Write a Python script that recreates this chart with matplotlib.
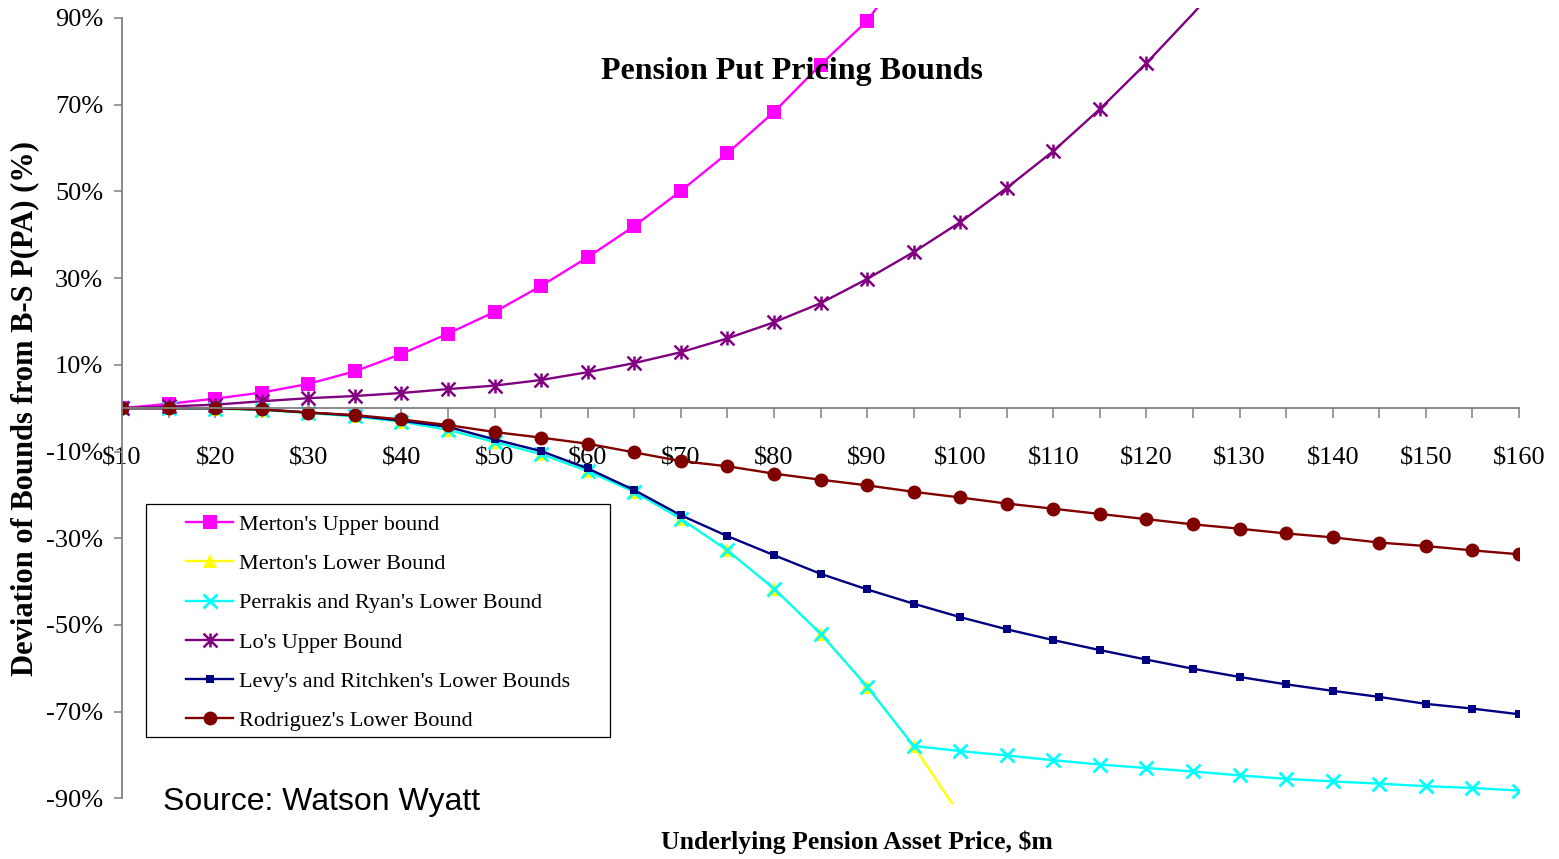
import numpy as np
import matplotlib
matplotlib.use("Agg")
import matplotlib.pyplot as plt
from matplotlib.lines import Line2D
from matplotlib.patches import Rectangle
from matplotlib.path import Path

# Underlying pension asset price, $m
prices = [10, 15, 20, 25, 30, 35, 40, 45, 50, 55, 60, 65, 70, 75, 80, 85,
          90, 95, 100, 105, 110, 115, 120, 125, 130, 135, 140, 145, 150, 155, 160]
nan = np.nan

# Deviation of each bound from B-S P(PA), in %
merton_upper = [0, 1.0, 2.2, 3.6, 5.6, 8.5, 12.5, 17.2, 22.2, 28.2, 34.8, 42.0,
                50.1, 58.8, 68.3, 79.2, 89.3, 104.0] + [nan] * 13
merton_lower = [0, 0, -0.1, -0.4, -1.1, -1.9, -3.1, -5.0, -7.8, -10.6, -14.5,
                -19.3, -25.5, -32.8, -41.6, -52.0, -64.2, -77.9, -94.0] + [nan] * 12
perrakis_ryan = [0, 0, -0.1, -0.4, -1.1, -1.9, -3.1, -5.0, -7.8, -10.6, -14.5,
                 -19.3, -25.5, -32.8, -41.6, -52.0, -64.2, -77.9, -79.1, -80.1,
                 -81.2, -82.2, -83.0, -83.8, -84.7, -85.5, -86.1, -86.6, -87.2,
                 -87.6, -88.2]
lo_upper = [0, 0.4, 0.8, 1.6, 2.3, 2.8, 3.5, 4.4, 5.2, 6.5, 8.3, 10.4, 12.9,
            16.1, 19.8, 24.2, 29.8, 36.0, 42.9, 50.8, 59.3, 69.0, 79.6, 91.0,
            103.0] + [nan] * 6
levy_ritchken = [0, 0, 0, -0.3, -1.0, -1.7, -2.9, -4.3, -7.2, -9.9, -13.9, -18.9,
                 -24.7, -29.5, -33.9, -38.2, -41.8, -45.1, -48.2, -51.0, -53.5,
                 -55.8, -58.0, -60.1, -62.0, -63.7, -65.2, -66.6, -68.2, -69.3,
                 -70.6]
rodriguez = [0, 0, 0, -0.3, -1.0, -1.6, -2.6, -3.9, -5.5, -6.8, -8.2, -10.2,
             -12.2, -13.4, -15.1, -16.5, -17.8, -19.3, -20.6, -22.0, -23.2,
             -24.4, -25.6, -26.8, -27.8, -28.9, -29.8, -31.0, -31.8, -32.8,
             -33.7]

series_names = ["Merton's Upper bound", "Merton's Lower Bound",
                "Perrakis and Ryan's Lower Bound", "Lo's Upper Bound",
                "Levy's and Ritchken's Lower Bounds", "Rodriguez's Lower Bound"]

# asterisk: an x with a vertical bar through it
asterisk = Path([(0, -1), (0, 1), (-1, -1), (1, 1), (-1, 1), (1, -1)],
                [Path.MOVETO, Path.LINETO] * 3)

styles = [
    dict(color="#FF00FF", marker="s", ms=9.5, mew=0),
    dict(color="#FFFF00", marker="^", ms=10, mew=0),
    dict(color="#00FFFF", marker="x", ms=10, mew=2),
    dict(color="#800080", marker=asterisk, ms=10, mew=1.8),
    dict(color="#000080", marker="s", ms=6, mew=0),
    dict(color="#800000", marker="o", ms=10, mew=0),
]
all_series = [merton_upper, merton_lower, perrakis_ryan, lo_upper,
              levy_ritchken, rodriguez]

W, H = 1559, 859
fig = plt.figure(figsize=(W / 100, H / 100), dpi=100)
ax = fig.add_axes([122 / W, 1 - 804 / H, (1519 - 122) / W, (804 - 8) / H])
ax.set_xlim(10, 160)
ax.set_ylim(-91.3, 92.3)

handles = []
for name, vals, st in zip(series_names, all_series, styles):
    y = np.array(vals, dtype=float)
    ax.plot(prices, y, color=st["color"], lw=1.7, solid_capstyle="butt")
    # markers are only drawn for points inside the -90%..90% range
    ym = np.where((y >= -90) & (y <= 90), y, np.nan)
    ax.plot(prices, ym, ls="none", marker=st["marker"], ms=st["ms"],
            mfc=st["color"], mec=st["color"], mew=st["mew"])
    handles.append(Line2D([], [], color=st["color"], lw=1.7, marker=st["marker"],
                          ms=st["ms"], mfc=st["color"], mec=st["color"],
                          mew=st["mew"], label=name))

serif = "Liberation Serif"
axis_grey = "#808080"

for side in ("top", "right"):
    ax.spines[side].set_visible(False)
ax.spines["left"].set_bounds(-90, 90)
ax.spines["bottom"].set_position(("data", 0))
for side in ("left", "bottom"):
    ax.spines[side].set_color(axis_grey)
    ax.spines[side].set_linewidth(1.3)

yticks = np.arange(-90, 91, 20)
ax.set_yticks(yticks)
ax.set_yticklabels([f"{v}%" for v in yticks], fontfamily=serif, fontsize=19)
ax.set_xticks(range(10, 161, 10))
ax.set_xticklabels([f"${v}" for v in range(10, 161, 10)], fontfamily=serif, fontsize=19)
ax.set_xticks(range(15, 160, 10), minor=True)
ax.tick_params(axis="y", direction="out", length=5.5, width=1.1, color=axis_grey, pad=8)
ax.tick_params(axis="x", which="both", direction="out", length=7.5, width=1.1,
               color=axis_grey, pad=20.5)

fig.text(792 / W, 1 - 71 / H, "Pension Put Pricing Bounds", ha="center", va="center",
         fontfamily=serif, fontweight="bold", fontsize=23)
fig.text(857 / W, 1 - 842 / H, "Underlying Pension Asset Price, $m", ha="center",
         va="center", fontfamily=serif, fontweight="bold", fontsize=18.5)
fig.text(25 / W, 1 - 408 / H, "Deviation of Bounds from B-S P(PA) (%)", ha="center",
         va="center", rotation=90, fontfamily=serif, fontweight="bold", fontsize=22)
fig.text(163 / W, 1 - 802 / H, "Source: Watson Wyatt", ha="left", va="center",
         fontfamily="Liberation Sans", fontsize=23)

# legend frame drawn separately so its padding can differ per side
ax.add_patch(Rectangle((146 / W, 1 - 737 / H), (610 - 146) / W, (737 - 504) / H,
                       transform=fig.transFigure, fill=True, facecolor="white",
                       edgecolor="black", lw=0.9, zorder=3, clip_on=False))
leg = ax.legend(handles=handles, loc="upper left", frameon=False,
                bbox_to_anchor=(182 / W, 1 - 510 / H), bbox_transform=fig.transFigure,
                prop={"family": serif, "size": 16}, handlelength=2.1,
                handletextpad=0.25, labelspacing=0.84, borderpad=0.2,
                borderaxespad=0, numpoints=1)
leg.set_zorder(4)

fig.savefig("out.png", dpi=100)
